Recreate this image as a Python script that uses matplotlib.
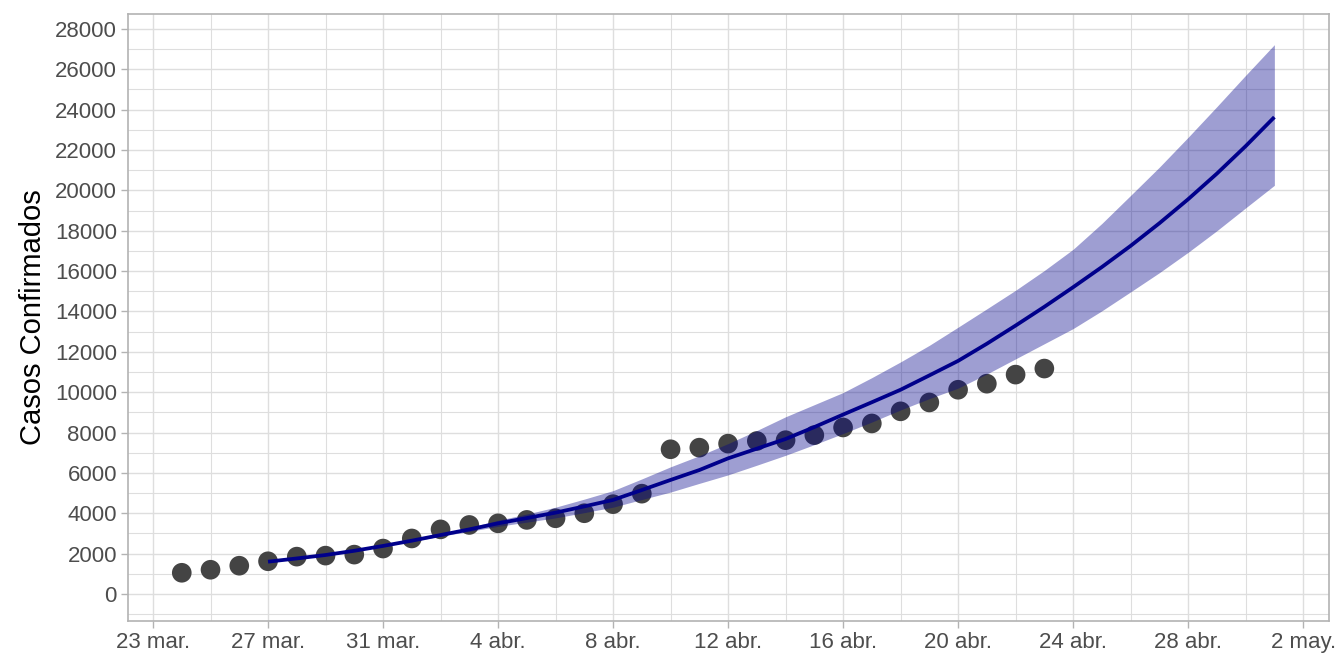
import datetime as dt
import matplotlib
matplotlib.use("Agg")
import matplotlib.pyplot as plt
import matplotlib.dates as mdates
from matplotlib.ticker import MultipleLocator, FixedLocator

# ---------------- data ----------------
obs_start = "2020-03-24"
obs_values = [1050, 1200, 1400, 1620, 1850, 1900, 1950, 2250, 2750, 3200,
              3420, 3500, 3670, 3750, 4000, 4450, 4970, 7170, 7250, 7450,
              7580, 7620, 7870, 8250, 8450, 9050, 9490, 10120, 10420, 10870,
              11170]

fit_start = "2020-03-27"
fit_values = [1600, 1760, 1930, 2140, 2380, 2640, 2920, 3200, 3500, 3760,
              4030, 4340, 4660, 5150, 5650, 6140, 6720, 7200, 7680, 8270,
              8890, 9500, 10120, 10830, 11550, 12400, 13300, 14230, 15200, 16200,
              17250, 18370, 19560, 20830, 22190, 23630]
fit_upper = [1600, 1760, 1930, 2140, 2390, 2670, 2980, 3300, 3650, 3960,
             4300, 4700, 5120, 5700, 6300, 6850, 7450, 8100, 8780, 9380,
             9980, 10720, 11500, 12320, 13220, 14130, 15050, 16030, 17080, 18360,
             19750, 21150, 22630, 24150, 25700, 27220]
fit_lower = [1600, 1760, 1930, 2140, 2370, 2610, 2860, 3100, 3350, 3560,
             3770, 4030, 4300, 4680, 5050, 5480, 5900, 6380, 6870, 7400,
             7950, 8520, 9120, 9680, 10200, 10900, 11650, 12400, 13150, 14030,
             14970, 15920, 16930, 18000, 19130, 20250]

x_tick_labels = ["23 mar.", "27 mar.", "31 mar.", "4 abr.", "8 abr.", "12 abr.",
                 "16 abr.", "20 abr.", "24 abr.", "28 abr.", "2 may."]
y_label = "Casos Confirmados"

# ---------------- build dates ----------------
def day_seq(start, n):
    d0 = dt.date.fromisoformat(start)
    return [d0 + dt.timedelta(days=i) for i in range(n)]

obs_dates = day_seq(obs_start, len(obs_values))
fit_dates = day_seq(fit_start, len(fit_values))
tick_dates = day_seq("2020-03-23", 41)[::4]
minor_dates = day_seq("2020-03-23", 41)[::2]

plt.rcParams['font.family'] = ['Liberation Sans', 'DejaVu Sans']

fig = plt.figure(figsize=(13.44, 6.72), dpi=100)
ax = fig.add_axes([128/1344, 1 - 621/672, (1329 - 128)/1344, (621 - 14)/672])

grid_c = '#dedede'
ax.set_axisbelow(True)

ax.scatter(obs_dates, obs_values, s=200, color='#444444', edgecolors='none', zorder=2)
ax.fill_between(fit_dates, fit_lower, fit_upper, color='#00008B', alpha=0.38,
                linewidth=0, zorder=3)
ax.plot(fit_dates, fit_values, color='#00008B', linewidth=2.7, zorder=4,
        solid_capstyle='butt', solid_joinstyle='round')

x0 = mdates.date2num(dt.date(2020, 3, 23))
ax.set_xlim(x0 - 0.87, x0 + 40.9)
ax.set_ylim(-1340, 28740)

ax.xaxis.set_major_locator(FixedLocator([mdates.date2num(d) for d in tick_dates]))
ax.set_xticklabels(x_tick_labels)
ax.xaxis.set_minor_locator(FixedLocator([mdates.date2num(d) for d in minor_dates]))
ax.yaxis.set_major_locator(MultipleLocator(2000))
ax.yaxis.set_minor_locator(MultipleLocator(1000))
ax.yaxis.set_major_formatter(matplotlib.ticker.FuncFormatter(lambda v, p: f"{int(v)}"))

ax.grid(which='major', color=grid_c, linewidth=1.0)
ax.grid(which='minor', color=grid_c, linewidth=0.8)

for s in ax.spines.values():
    s.set_color('#b3b3b3')
    s.set_linewidth(1.2)

ax.tick_params(which='major', length=5, width=1.0, color='#b3b3b3',
               labelsize=16, labelcolor='#4d4d4d', pad=3)
ax.tick_params(which='minor', length=0)

ax.set_ylabel(y_label, fontsize=21, color='black', labelpad=6)

fig.savefig("out.png", dpi=100)
